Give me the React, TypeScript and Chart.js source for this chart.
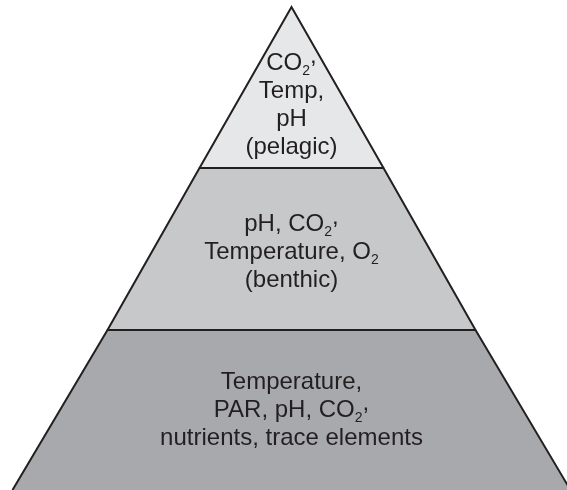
import React, { useEffect, useRef } from "react";
import { Chart, registerables } from "chart.js";

Chart.register(...registerables);

// Levels of the pyramid (height from the base, in chart units) and half-widths at each level
const levelHeights = [0, 160, 322, 483];
const levelHalfWidths = [279, 184, 92, 0];
const centerX = 291.5;

const tierNames = ["Base", "Benthic", "Pelagic"];
const tierColors = ["#a7a9ac", "#c7c8ca", "#e6e7e8"];
const bottomLabel = ["Temperature,", "PAR, pH, CO₂,", "nutrients, trace elements"];
const middleLabel = ["pH, CO₂,", "Temperature, O₂", "(benthic)"];
const topLabel = ["CO₂,", "Temp,", "pH", "(pelagic)"];
const tierLabels = [bottomLabel, middleLabel, topLabel];
const labelCenterY = [81, 239, 386];

const FONT_FAMILY = '"Liberation Sans", Arial, Helvetica, sans-serif';
const FONT_SIZE = 24;
const SUB_SIZE = 14;
const LINE_HEIGHT = 28;
const TEXT_COLOR = "#231f20";

function tierPoints(i: number) {
  const pts: { x: number; y: number }[] = [];
  pts.push({ x: centerX - levelHalfWidths[i], y: levelHeights[i] });
  pts.push({ x: centerX - levelHalfWidths[i + 1], y: levelHeights[i + 1] });
  if (levelHalfWidths[i + 1] > 0) {
    pts.push({ x: centerX + levelHalfWidths[i + 1], y: levelHeights[i + 1] });
  }
  pts.push({ x: centerX + levelHalfWidths[i], y: levelHeights[i] });
  return pts;
}

type Run = { t: string; size: number; dy: number };

function toRuns(line: string): Run[] {
  const runs: Run[] = [];
  const parts = line.split("₂");
  parts.forEach((p, k) => {
    if (k > 0 && p.startsWith(",")) {
      // comma following a subscript sits raised, as in the original artwork
      runs.push({ t: ",", size: FONT_SIZE, dy: -7 });
      p = p.slice(1);
    }
    if (p) runs.push({ t: p, size: FONT_SIZE, dy: 0 });
    if (k < parts.length - 1) runs.push({ t: "2", size: SUB_SIZE, dy: 5 });
  });
  return runs;
}

const labelPlugin = {
  id: "tierLabels",
  afterDatasetsDraw(chart: any) {
    const ctx = chart.ctx as CanvasRenderingContext2D;
    const xs = chart.scales.x;
    const ys = chart.scales.y;
    ctx.save();
    ctx.fillStyle = TEXT_COLOR;
    ctx.textBaseline = "alphabetic";
    ctx.textAlign = "left";
    tierLabels.forEach((lines, i) => {
      const cx = xs.getPixelForValue(centerX);
      const cy = ys.getPixelForValue(labelCenterY[i]);
      const n = lines.length;
      const firstBaseline = cy - ((n - 1) * LINE_HEIGHT) / 2 + 8;
      lines.forEach((line, j) => {
        const runs = toRuns(line);
        let width = 0;
        runs.forEach((r) => {
          ctx.font = `${r.size}px ${FONT_FAMILY}`;
          width += ctx.measureText(r.t).width;
        });
        let x = cx - width / 2;
        const base = firstBaseline + j * LINE_HEIGHT;
        runs.forEach((r) => {
          ctx.font = `${r.size}px ${FONT_FAMILY}`;
          ctx.fillText(r.t, x, base + r.dy);
          x += ctx.measureText(r.t).width;
        });
      });
    });
    ctx.restore();
  },
};

export default function App() {
  const ref = useRef<HTMLCanvasElement | null>(null);
  useEffect(() => {
    if (!ref.current) return;
    const chart = new Chart(ref.current, {
      type: "scatter",
      data: {
        datasets: tierNames.map((name, i) => ({
          label: name,
          data: tierPoints(i),
          showLine: true,
          pointRadius: 0,
          borderColor: "#231f20",
          borderWidth: 2,
          borderJoinStyle: "miter" as const,
          backgroundColor: tierColors[i],
          fill: { value: levelHeights[i] },
          tension: 0,
        })),
      },
      options: {
        responsive: false,
        animation: false,
        layout: { padding: 0 },
        scales: {
          x: { type: "linear", min: 0, max: 567, display: false },
          y: { type: "linear", min: 0, max: 490, display: false },
        },
        plugins: {
          legend: { display: false },
          tooltip: { enabled: false },
          filler: { drawTime: "beforeDatasetsDraw" },
        },
      } as any,
      plugins: [labelPlugin],
    });
    return () => chart.destroy();
  }, []);
  return (
    <div style={{ position: "absolute", left: 0, top: 0, width: 567, height: 490, background: "#fff" }}>
      <canvas ref={ref} width={567} height={490} />
    </div>
  );
}
